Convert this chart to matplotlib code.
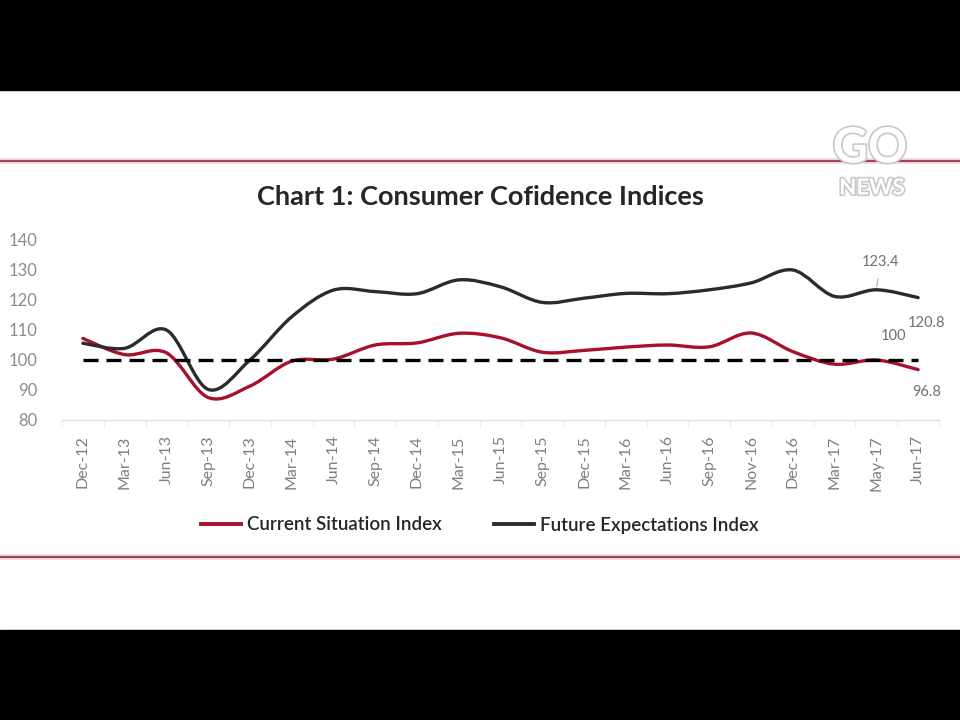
import matplotlib
matplotlib.use("Agg")
import matplotlib.pyplot as plt
import matplotlib.patheffects as pe
from matplotlib.path import Path
from matplotlib.patches import PathPatch, Rectangle
from matplotlib.lines import Line2D
import numpy as np

plt.rcParams['font.family'] = ['Lato', 'DejaVu Sans']

categories = ["Dec-12", "Mar-13", "Jun-13", "Sep-13", "Dec-13", "Mar-14", "Jun-14",
              "Sep-14", "Dec-14", "Mar-15", "Jun-15", "Sep-15", "Dec-15", "Mar-16",
              "Jun-16", "Sep-16", "Nov-16", "Dec-16", "Mar-17", "May-17", "Jun-17"]
current_situation = [107.2, 101.8, 102.4, 87.5, 91.3, 99.6, 100.3, 105.0, 105.7, 108.9,
                     107.4, 102.6, 103.2, 104.3, 105.0, 104.4, 109.0, 102.8, 98.6, 100.0, 96.8]
future_expectations = [105.6, 103.9, 110.0, 90.2, 100.0, 114.4, 123.3, 122.8, 122.1, 126.7,
                       124.4, 119.2, 120.6, 122.2, 122.1, 123.4, 125.7, 130.0, 121.2, 123.4, 120.8]
baseline = [100] * len(categories)
yticks = [80, 90, 100, 110, 120, 130, 140]

RED = '#A8102C'
BLACK = '#2B2B2B'

fig = plt.figure(figsize=(9.6, 7.2), dpi=100)
fig.patch.set_facecolor('white')
# black letterbox bars
fig.add_artist(Rectangle((0, 630/720), 1, 90/720, transform=fig.transFigure, color='black', zorder=0))
fig.add_artist(Rectangle((0, 0), 1, 90/720, transform=fig.transFigure, color='black', zorder=0))
# red frame lines
for yy in [(720-161)/720, (720-557)/720]:
    fig.add_artist(Line2D([0, 1], [yy, yy], transform=fig.transFigure, color='#F7D5DD', lw=4, zorder=1))
    fig.add_artist(Line2D([0, 1], [yy, yy], transform=fig.transFigure, color='#A04458', lw=1.5, zorder=2))

ax = fig.add_axes([62/960, (720-420)/720, 877/960, 180/720])
x = np.arange(len(categories))


def smooth_path(xs, ys):
    pts = np.column_stack([xs, ys]).astype(float)
    n = len(pts)
    verts = [pts[0]]
    codes = [Path.MOVETO]
    for i in range(n - 1):
        p0 = pts[i - 1] if i > 0 else pts[i]
        p1 = pts[i]
        p2 = pts[i + 1]
        p3 = pts[i + 2] if i + 2 < n else pts[i + 1]
        c1 = p1 + (p2 - p0) / 6.0
        c2 = p2 - (p3 - p1) / 6.0
        verts += [c1, c2, p2]
        codes += [Path.CURVE4] * 3
    return Path(verts, codes)


ax.add_patch(PathPatch(smooth_path(x, current_situation), facecolor='none', edgecolor=RED,
                       lw=2.4, capstyle='round', joinstyle='round', zorder=3))
ax.add_patch(PathPatch(smooth_path(x, future_expectations), facecolor='none', edgecolor=BLACK,
                       lw=2.4, capstyle='round', joinstyle='round', zorder=3))
ax.plot(x, baseline, color='black', lw=2.4, dashes=(4.5, 2.4), zorder=4)

ax.set_xlim(-0.5, len(categories) - 0.5)
ax.set_ylim(80, 140)
ax.set_yticks(yticks)
ax.set_yticklabels([str(v) for v in yticks], fontsize=12, color='#8C8C8C')
ax.set_xticks(x)
ax.set_xticklabels(categories, rotation=90, fontsize=11.5, color='#7F7F7F')
ax.set_xticks(np.arange(-0.5, len(categories), 1), minor=True)
ax.tick_params(axis='x', which='major', length=0, pad=11)
ax.tick_params(axis='x', which='minor', length=5, color='#EBEBEB', width=0.8)
ax.tick_params(axis='y', length=0, pad=18)
for s in ['top', 'right', 'left']:
    ax.spines[s].set_visible(False)
ax.spines['bottom'].set_color('#E0E0E0')
ax.spines['bottom'].set_linewidth(1.0)
ax.set_facecolor('none')

# data labels
lbl_kw = dict(fontsize=10.5, color='#707070', textcoords='offset points', ha='center', va='center')
ax.annotate(f"{future_expectations[19]:.1f}", xy=(19, future_expectations[19]), xytext=(3, 20),
            arrowprops=dict(arrowstyle='-', color='#A0A0A0', lw=0.7, shrinkA=5, shrinkB=2), **lbl_kw)
ax.annotate(f"{future_expectations[20]:.1f}", xy=(20, future_expectations[20]), xytext=(6, -18), **lbl_kw)
ax.annotate(f"{current_situation[19]:.0f}", xy=(19, current_situation[19]), xytext=(12, 17), **lbl_kw)
ax.annotate(f"{current_situation[20]:.1f}", xy=(20, current_situation[20]), xytext=(6, -16), **lbl_kw)

fig.text(0.5, (720-197)/720, "Chart 1: Consumer Cofidence Indices", ha='center', va='center',
         fontsize=19.5, fontweight='bold', color='#262626')

handles = [Line2D([], [], color=RED, lw=2.8), Line2D([], [], color=BLACK, lw=2.8)]
leg = fig.legend(handles, ["Current Situation Index", "Future Expectations Index"],
                 loc='center', bbox_to_anchor=(0.5, (720-525)/720), ncol=2, frameon=False,
                 fontsize=13.5, handlelength=2.1, handletextpad=0.35, columnspacing=2.8)
for t in leg.get_texts():
    t.set_color('#262626')
    t.set_fontweight('semibold')

# logo
stroke = [pe.withStroke(linewidth=2.4, foreground='#C8C8C8')]
fig.text(870/960, (720-148)/720, "GO", ha='center', va='center', fontsize=35, fontweight='bold',
         color='white', path_effects=stroke, zorder=5)
fig.text(872/960, (720-188)/720, "NEWS", ha='center', va='center', fontsize=16, fontweight='bold',
         color='white', path_effects=stroke, zorder=5)

fig.savefig("out.png", dpi=100, facecolor='white')
